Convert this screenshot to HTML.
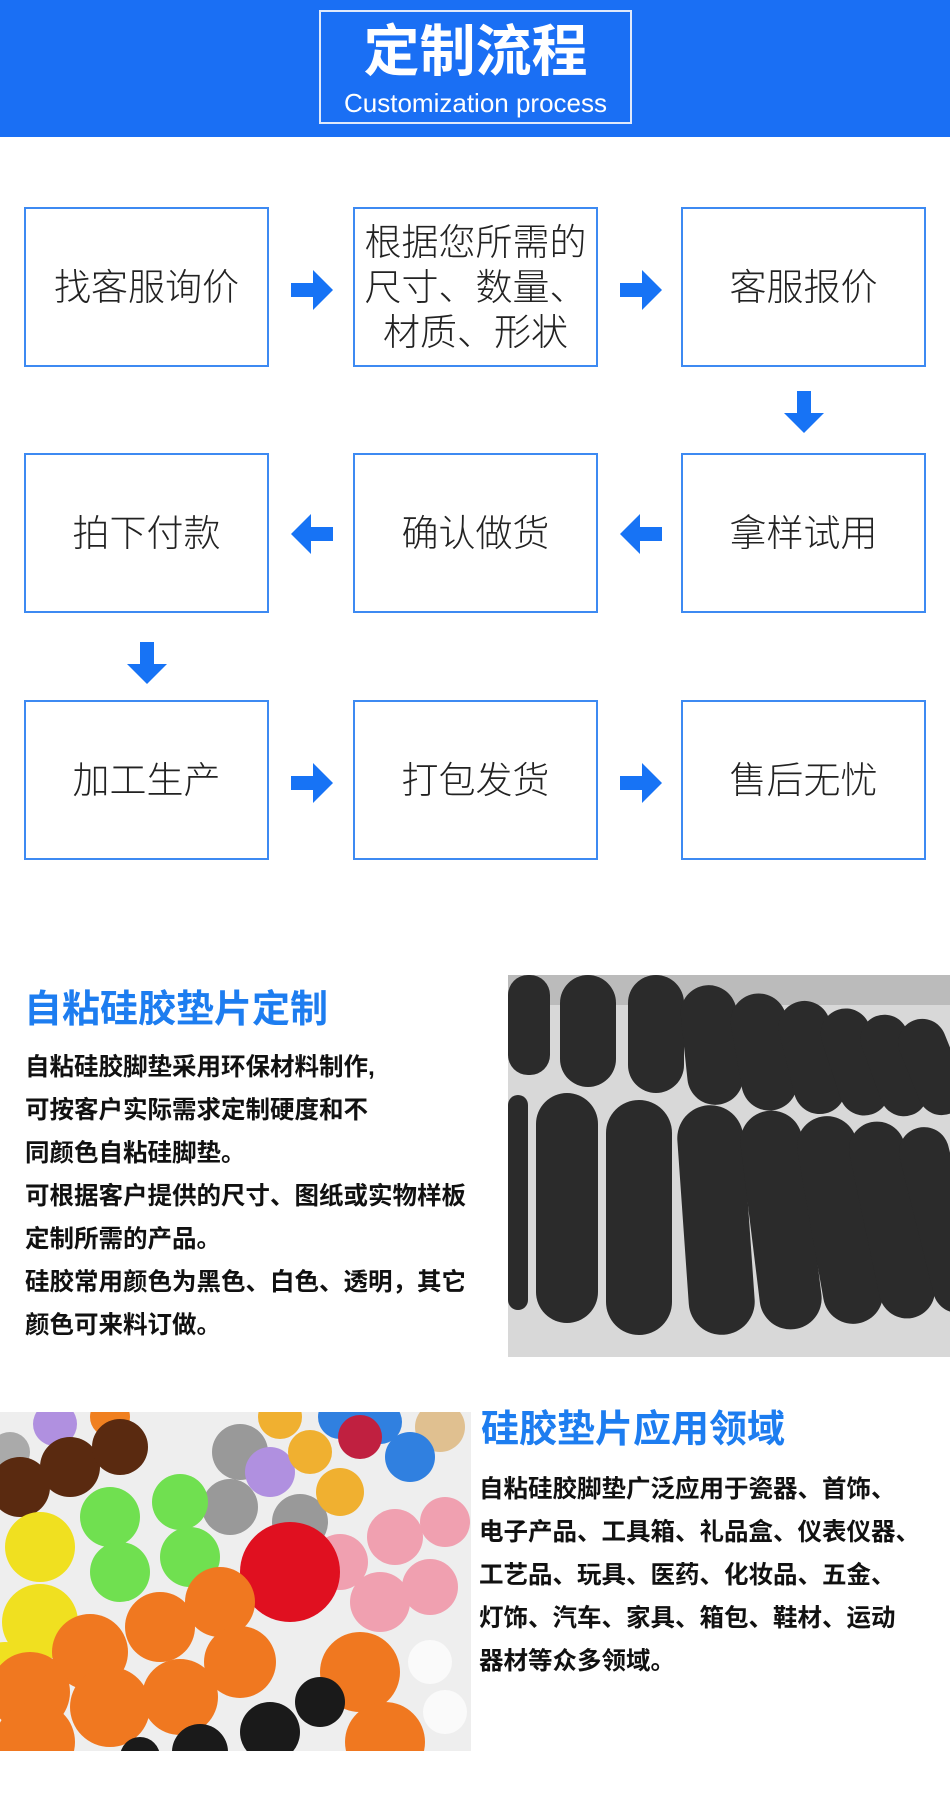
<!DOCTYPE html>
<html><head><meta charset="utf-8"><style>
*{margin:0;padding:0;box-sizing:border-box}
body{width:950px;height:1815px;background:#fff;position:relative;overflow:hidden;font-family:"Liberation Sans","Noto Sans CJK SC",sans-serif}
.hdr{position:absolute;left:0;top:0;width:950px;height:137px;background:#1a6ff4}
.tb{position:absolute;left:319px;top:10px;width:313px;height:114px;border:2px solid #dfe9fb}
.t1{position:absolute;left:0;width:100%;top:8px;text-align:center;color:#fff;font-size:56px;font-weight:bold;line-height:64px}
.t2{position:absolute;left:0;width:100%;top:76px;text-align:center;color:#fff;font-size:26px;line-height:30px}
.box{position:absolute;width:245px;height:160px;border:2px solid #3d8af2;display:flex;align-items:center;justify-content:center;text-align:center;font-size:37px;color:#222;line-height:45px;font-weight:300}
.ar{position:absolute}
.h2{position:absolute;color:#1d7df0;font-weight:bold;font-size:38px;line-height:42px}
.p{position:absolute;font-size:24.5px;font-weight:bold;color:#111;line-height:43px;white-space:nowrap}
</style></head><body>
<div class="hdr"><div class="tb"><div class="t1">定制流程</div><div class="t2">Customization process</div></div></div>

<div class="box" style="left:24px;top:207px">找客服询价</div>
<div class="box" style="left:353px;top:207px">根据您所需的<br>尺寸、数量、<br>材质、形状</div>
<div class="box" style="left:681px;top:207px">客服报价</div>
<div class="box" style="left:24px;top:453px">拍下付款</div>
<div class="box" style="left:353px;top:453px">确认做货</div>
<div class="box" style="left:681px;top:453px">拿样试用</div>
<div class="box" style="left:24px;top:700px">加工生产</div>
<div class="box" style="left:353px;top:700px">打包发货</div>
<div class="box" style="left:681px;top:700px">售后无忧</div>

<svg class="ar" style="left:0;top:0" width="950" height="900">
<defs>
<path id="r" d="M0,-7 H22 V-20 L42,0 L22,20 V7 H0 Z" fill="#1773f5"/>
<path id="l" d="M0,-7 H-22 V-20 L-42,0 L-22,20 V7 H0 Z" fill="#1773f5"/>
<path id="d" d="M-7,0 V22 H-20 L0,42 L20,22 H7 V0 Z" fill="#1773f5"/>
</defs>
<use href="#r" x="291" y="290"/>
<use href="#r" x="620" y="290"/>
<use href="#d" x="804" y="391"/>
<use href="#l" x="333" y="534"/>
<use href="#l" x="662" y="534"/>
<use href="#d" x="147" y="642"/>
<use href="#r" x="291" y="783"/>
<use href="#r" x="620" y="783"/>
</svg>

<div class="h2" style="left:24px;top:989px">自粘硅胶垫片定制</div>
<div class="p" style="left:25px;top:1046px">自粘硅胶脚垫采用环保材料制作,<br>可按客户实际需求定制硬度和不<br>同颜色自粘硅脚垫。<br>可根据客户提供的尺寸、图纸或实物样板<br>定制所需的产品。<br>硅胶常用颜色为黑色、白色、透明，其它<br>颜色可来料订做。</div>

<svg class="ar" style="left:508px;top:975px" width="442" height="382">
<rect width="442" height="382" fill="#d8d8d8"/>
<rect x="0" y="0" width="442" height="30" fill="#bbb"/>
<g fill="#2b2b2b">
<rect x="0" y="0" width="42" height="100" rx="20"/>
<rect x="52" y="0" width="56" height="112" rx="28"/>
<rect x="120" y="0" width="56" height="118" rx="28"/>
<rect x="176" y="10" width="56" height="120" rx="28" transform="rotate(-6 204 70)"/>
<rect x="228" y="18" width="56" height="118" rx="28" transform="rotate(-10 256 77)"/>
<rect x="278" y="25" width="52" height="115" rx="26" transform="rotate(-14 304 82)"/>
<rect x="322" y="32" width="50" height="110" rx="25" transform="rotate(-18 347 87)"/>
<rect x="362" y="38" width="48" height="105" rx="24" transform="rotate(-20 386 90)"/>
<rect x="400" y="42" width="48" height="100" rx="24" transform="rotate(-22 424 92)"/>
<rect x="0" y="120" width="20" height="215" rx="10"/>
<rect x="28" y="118" width="62" height="230" rx="31"/>
<rect x="98" y="125" width="66" height="235" rx="33"/>
<rect x="175" y="130" width="66" height="230" rx="33" transform="rotate(-4 208 245)"/>
<rect x="242" y="135" width="62" height="220" rx="31" transform="rotate(-7 273 245)"/>
<rect x="302" y="140" width="60" height="210" rx="30" transform="rotate(-10 332 245)"/>
<rect x="356" y="145" width="56" height="200" rx="28" transform="rotate(-12 384 245)"/>
<rect x="408" y="150" width="50" height="190" rx="25" transform="rotate(-14 433 245)"/>
</g>
</svg>

<svg class="ar" style="left:0;top:1412px" width="471" height="339">
<rect width="471" height="339" fill="#eeeeee"/>
<g>
<circle cx="10" cy="40" r="20" fill="#aaa"/><circle cx="55" cy="12" r="22" fill="#b090e0"/><circle cx="110" cy="5" r="20" fill="#f08020"/>
<circle cx="20" cy="75" r="30" fill="#5a2a10"/><circle cx="70" cy="55" r="30" fill="#5a2a10"/><circle cx="120" cy="35" r="28" fill="#5a2a10"/>
<circle cx="240" cy="40" r="28" fill="#999"/><circle cx="280" cy="5" r="22" fill="#f0b030"/><circle cx="340" cy="5" r="22" fill="#3080e0"/><circle cx="380" cy="10" r="22" fill="#3080e0"/><circle cx="440" cy="15" r="25" fill="#e0c090"/>
<circle cx="270" cy="60" r="25" fill="#b090e0"/><circle cx="310" cy="40" r="22" fill="#f0b030"/><circle cx="360" cy="25" r="22" fill="#c02040"/><circle cx="410" cy="45" r="25" fill="#3080e0"/>
<circle cx="230" cy="95" r="28" fill="#999"/><circle cx="300" cy="110" r="28" fill="#999"/><circle cx="340" cy="80" r="24" fill="#f0b030"/>
<circle cx="110" cy="105" r="30" fill="#70e050"/><circle cx="180" cy="90" r="28" fill="#70e050"/><circle cx="120" cy="160" r="30" fill="#70e050"/><circle cx="190" cy="145" r="30" fill="#70e050"/>
<circle cx="40" cy="135" r="35" fill="#f0e020"/><circle cx="40" cy="210" r="38" fill="#f0e020"/><circle cx="5" cy="260" r="30" fill="#f0e020"/>
<circle cx="340" cy="150" r="28" fill="#f0a0b0"/><circle cx="395" cy="125" r="28" fill="#f0a0b0"/><circle cx="445" cy="110" r="25" fill="#f0a0b0"/>
<circle cx="380" cy="190" r="30" fill="#f0a0b0"/><circle cx="430" cy="175" r="28" fill="#f0a0b0"/>
<circle cx="290" cy="160" r="50" fill="#e01020"/>
<circle cx="220" cy="190" r="35" fill="#f07820"/><circle cx="160" cy="215" r="35" fill="#f07820"/><circle cx="240" cy="250" r="36" fill="#f07820"/>
<circle cx="90" cy="240" r="38" fill="#f07820"/><circle cx="30" cy="280" r="40" fill="#f07820"/><circle cx="110" cy="295" r="40" fill="#f07820"/><circle cx="180" cy="285" r="38" fill="#f07820"/>
<circle cx="35" cy="330" r="40" fill="#f07820"/>
<circle cx="360" cy="260" r="40" fill="#f07820"/><circle cx="385" cy="330" r="40" fill="#f07820"/>
<circle cx="430" cy="250" r="22" fill="#fafafa"/><circle cx="445" cy="300" r="22" fill="#fafafa"/>
<circle cx="270" cy="320" r="30" fill="#1a1a1a"/><circle cx="200" cy="340" r="28" fill="#1a1a1a"/><circle cx="320" cy="290" r="25" fill="#1a1a1a"/><circle cx="140" cy="345" r="20" fill="#1a1a1a"/>
</g>
</svg>

<div class="h2" style="left:481px;top:1409px">硅胶垫片应用领域</div>
<div class="p" style="left:479px;top:1468px">自粘硅胶脚垫广泛应用于瓷器、首饰、<br>电子产品、工具箱、礼品盒、仪表仪器、<br>工艺品、玩具、医药、化妆品、五金、<br>灯饰、汽车、家具、箱包、鞋材、运动<br>器材等众多领域。</div>
</body></html>
